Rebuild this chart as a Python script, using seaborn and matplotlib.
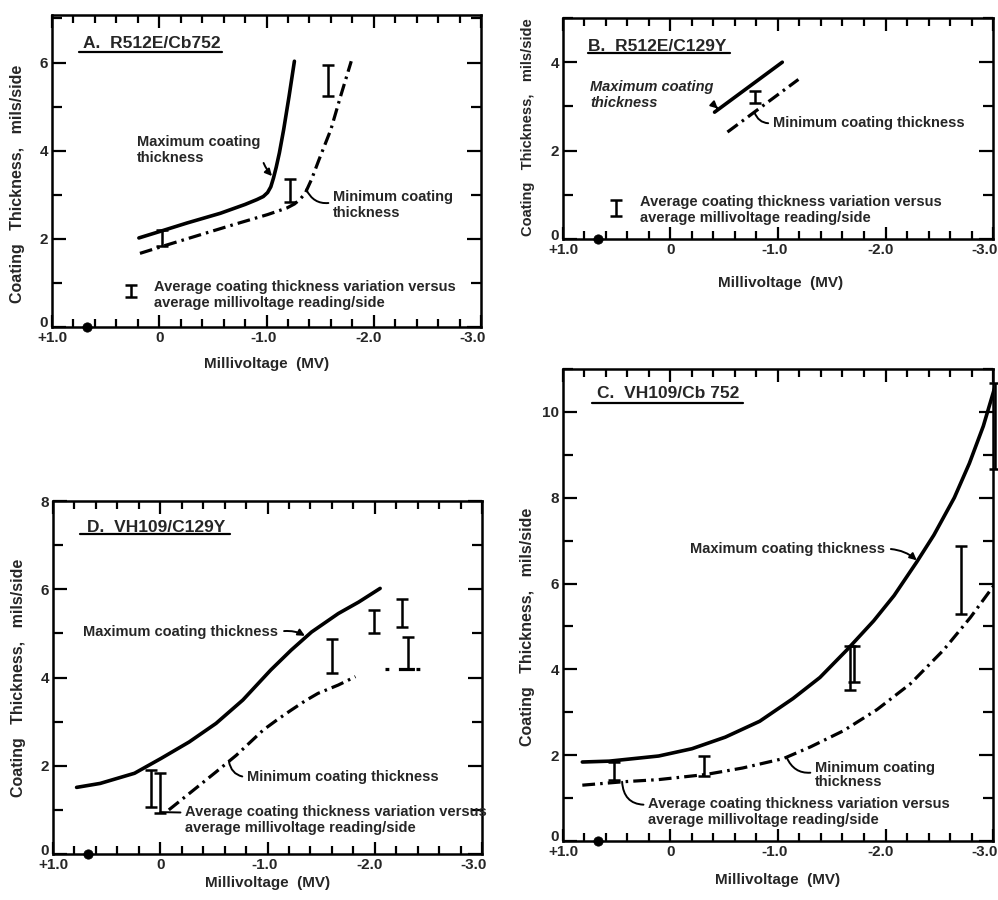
import matplotlib
matplotlib.use("Agg")
import matplotlib.pyplot as plt
from matplotlib.ticker import MultipleLocator
from matplotlib.transforms import ScaledTranslation
import seaborn as sns
import numpy as np

sns.set_theme(style="white")
plt.rcParams['font.family'] = ['Liberation Sans', 'DejaVu Sans']
plt.rcParams['font.weight'] = 'bold'

# ---------------- data ----------------
x_ticks = [1.0, 0.0, -1.0, -2.0, -3.0]
x_tick_labels = ["+1.0", "0", "-1.0", "-2.0", "-3.0"]
ref_dot_x = [0.67]
ref_dot_y = [0.0]

# Panel A  R512E/Cb752
a_max_x = [0.19, -0.01, -0.26, -0.57, -0.80, -0.91, -0.97, -1.01, -1.04, -1.065, -1.09, -1.12, -1.16, -1.21, -1.26]
a_max_y = [2.02, 2.17, 2.36, 2.58, 2.78, 2.89, 2.96, 3.05, 3.18, 3.38, 3.62, 3.95, 4.48, 5.23, 6.03]
a_min_x = [0.18, -0.07, -0.38, -0.69, -1.01, -1.19, -1.26, -1.31, -1.36, -1.42, -1.49, -1.60, -1.69, -1.79]
a_min_y = [1.67, 1.86, 2.09, 2.32, 2.55, 2.70, 2.79, 2.89, 3.03, 3.35, 3.80, 4.48, 5.23, 6.03]
a_bar_x = [-0.03, -1.22, -1.57, 0.26]
a_bar_lo = [1.83, 2.83, 5.23, 0.69]
a_bar_hi = [2.20, 3.36, 5.94, 0.95]

# Panel B  R512E/C129Y
b_max_x = [-0.41, -1.04]
b_max_y = [2.87, 4.00]
b_min_x = [-0.53, -1.19]
b_min_y = [2.42, 3.61]
b_bar_x = [-0.79, 0.51]
b_bar_lo = [3.08, 0.53]
b_bar_hi = [3.34, 0.88]

# Panel C  VH109/Cb752
c_max_x = [0.82, 0.57, 0.11, -0.20, -0.51, -0.83, -1.14, -1.39, -1.64, -1.89, -2.08, -2.29, -2.45, -2.64, -2.78, -2.91, -3.02]
c_max_y = [1.84, 1.86, 1.98, 2.15, 2.42, 2.79, 3.32, 3.81, 4.45, 5.13, 5.72, 6.50, 7.13, 8.00, 8.80, 9.67, 10.60]
c_min_x = [0.82, 0.44, 0.11, -0.33, -0.67, -1.05, -1.30, -1.61, -1.92, -2.23, -2.54, -2.79, -3.01]
c_min_y = [1.30, 1.38, 1.43, 1.55, 1.70, 1.92, 2.19, 2.57, 3.06, 3.66, 4.45, 5.21, 5.96]
c_bar_x = [0.53, -0.31, -1.67, -1.71, -2.70, -3.02]
c_bar_lo = [1.41, 1.51, 3.51, 3.71, 5.30, 8.67]
c_bar_hi = [1.84, 1.98, 4.54, 4.54, 6.88, 10.68]

# Panel D  VH109/C129Y
d_max_x = [0.78, 0.56, 0.24, -0.01, -0.27, -0.52, -0.77, -1.03, -1.22, -1.41, -1.66, -1.85, -2.05]
d_max_y = [1.51, 1.60, 1.83, 2.17, 2.54, 2.96, 3.49, 4.17, 4.62, 5.03, 5.45, 5.71, 6.02]
d_min_x = [-0.08, -0.27, -0.52, -0.71, -0.96, -1.10, -1.22, -1.35, -1.47, -1.66, -1.82]
d_min_y = [1.00, 1.37, 1.86, 2.24, 2.81, 3.06, 3.26, 3.47, 3.64, 3.83, 4.02]
d_tail_x = [-2.10, -2.48]
d_tail_y = [4.20, 4.20]
d_bar_x = [0.09, 0.00, -1.60, -1.99, -2.25, -2.31]
d_bar_lo = [1.07, 0.92, 4.11, 5.00, 5.15, 4.20]
d_bar_hi = [1.90, 1.83, 4.88, 5.52, 5.79, 4.92]

# ---------------- styling ----------------
LW_MAX = 2.6
LW_MIN = 2.3
DASHDOT = (0, (4, 1.6, 0.8, 1.6))
TXT = 10.5
LSP = 1.2
fig = plt.figure(figsize=(9.98, 9.0), dpi=100)

def setup(ax, ymax, yticks):
    ax.set_xlim(1.0, -3.0)
    ax.set_ylim(0, ymax)
    ax.set_xticks(x_ticks, x_tick_labels)
    ax.set_yticks(yticks, [str(t) for t in yticks])
    ax.xaxis.set_minor_locator(MultipleLocator(0.2))
    ax.yaxis.set_minor_locator(MultipleLocator(1))
    ax.tick_params(axis='both', which='both', direction='in', top=True, right=True,
                   bottom=True, left=True, width=1.6, color='black',
                   labelsize=11, pad=3)
    ax.tick_params(axis='x', which='major', length=9)
    ax.tick_params(axis='x', which='minor', length=6)
    ax.tick_params(axis='y', which='major', length=10)
    ax.tick_params(axis='y', which='minor', length=7)
    for lab in ax.get_xticklabels() + ax.get_yticklabels():
        lab.set_fontweight('bold')
    xl = ax.get_xticklabels()
    shifts = [0, 0, -3, -5, -8]
    for lab, sh in zip(xl, shifts):
        lab.set_transform(lab.get_transform() + ScaledTranslation(sh / 100, 0, fig.dpi_scale_trans))
    y0 = ax.get_yticklabels()[0]
    y0.set_transform(y0.get_transform() + ScaledTranslation(0, 5 / 100, fig.dpi_scale_trans))
    for s in ax.spines.values():
        s.set_linewidth(1.8)
        s.set_color('black')
    ax.grid(False)
    ax.set_facecolor('white')

def curves(ax, mx, my, nx, ny):
    sns.lineplot(x=mx, y=my, ax=ax, color='black', lw=LW_MAX, sort=False,
                 estimator=None, solid_capstyle='round', solid_joinstyle='round')
    sns.lineplot(x=nx, y=ny, ax=ax, color='black', lw=LW_MIN, sort=False,
                 estimator=None, linestyle=DASHDOT)

def bars(ax, bx, lo, hi):
    bx = np.asarray(bx); lo = np.asarray(lo); hi = np.asarray(hi)
    ax.errorbar(bx, (lo + hi) / 2, yerr=(hi - lo) / 2, fmt='none', ecolor='black',
                elinewidth=1.8, capsize=4, capthick=1.8, clip_on=False, zorder=4)

def dot(ax):
    sns.scatterplot(x=ref_dot_x, y=ref_dot_y, ax=ax, color='black', s=45,
                    clip_on=False, zorder=5, edgecolor='black')

def title(ax, s, x, y, ux0, ux1, uy):
    ax.text(x, y, s, transform=ax.transAxes, ha='left', va='center',
            fontsize=12.5, fontweight='bold')
    ax.plot([ux0, ux1], [uy, uy], transform=ax.transAxes, color='black', lw=1.6)

def labels(ax, xl_pos, yl_pos, ysize=11.5):
    ax.set_xlabel("Millivoltage  (MV)", fontsize=11, fontweight='bold')
    ax.set_ylabel("Coating   Thickness,   mils/side", fontsize=ysize, fontweight='bold')
    ax.xaxis.set_label_coords(*xl_pos)
    ax.yaxis.set_label_coords(*yl_pos)

LEG = "Average coating thickness variation versus\naverage millivoltage reading/side"

# ---------------- Panel A ----------------
axA = fig.add_axes([0.0521, 0.6367, 0.4299, 0.3467])
setup(axA, 7.08, [0, 2, 4, 6])
curves(axA, a_max_x, a_max_y, a_min_x, a_min_y)
bars(axA, a_bar_x, a_bar_lo, a_bar_hi)
dot(axA)
title(axA, "A.  R512E/Cb752", 0.072, 0.910, 0.063, 0.396, 0.881)
axA.annotate("Maximum coating\nthickness", xy=(-1.06, 3.40), xytext=(0.198, 0.566),
             textcoords='axes fraction', ha='left', va='center', fontsize=TXT,
             linespacing=LSP,
             arrowprops=dict(arrowstyle='-|>', lw=1.4, color='black', shrinkA=0, shrinkB=1,
                             relpos=(1.0, 0.45), connectionstyle='arc3,rad=0.15',
                             mutation_scale=10))
axA.annotate("Minimum coating\nthickness", xy=(-1.37, 3.12), xytext=(0.655, 0.39),
             textcoords='axes fraction', ha='left', va='center', fontsize=TXT,
             linespacing=LSP,
             arrowprops=dict(arrowstyle='-', lw=1.4, color='black', shrinkA=1, shrinkB=0,
                             relpos=(0.0, 0.6), connectionstyle='arc3,rad=-0.4'))
axA.text(0.237, 0.103, LEG, transform=axA.transAxes, ha='left', va='center',
         fontsize=TXT, linespacing=LSP)
labels(axA, (0.5, -0.097), (-0.063, 0.46))

# ---------------- Panel B ----------------
axB = fig.add_axes([0.5641, 0.7344, 0.4309, 0.2456])
setup(axB, 5.0, [0, 2, 4])
curves(axB, b_max_x, b_max_y, b_min_x, b_min_y)
bars(axB, b_bar_x, b_bar_lo, b_bar_hi)
dot(axB)
title(axB, "B.  R512E/C129Y", 0.058, 0.869, 0.058, 0.388, 0.842)
axB.annotate("Maximum coating\nthickness", xy=(-0.45, 2.93), xytext=(0.063, 0.651),
             textcoords='axes fraction', ha='left', va='center', fontsize=TXT,
             fontstyle='italic', linespacing=LSP,
             arrowprops=dict(arrowstyle='-|>', lw=1.4, color='black', shrinkA=0, shrinkB=1,
                             relpos=(0.97, 0.3), connectionstyle='arc3,rad=0.0',
                             mutation_scale=10))
axB.annotate("Minimum coating thickness", xy=(-0.78, 2.87), xytext=(0.488, 0.525),
             textcoords='axes fraction', ha='left', va='center', fontsize=TXT,
             arrowprops=dict(arrowstyle='-', lw=1.4, color='black', shrinkA=1, shrinkB=0,
                             relpos=(0.0, 0.5), connectionstyle='arc3,rad=-0.4'))
axB.text(0.179, 0.131, LEG, transform=axB.transAxes, ha='left', va='center',
         fontsize=TXT, linespacing=LSP)
labels(axB, (0.507, -0.167), (-0.065, 0.505), ysize=10.5)

# ---------------- Panel D ----------------
axD = fig.add_axes([0.0531, 0.0511, 0.4299, 0.3922])
setup(axD, 8.0, [0, 2, 4, 6, 8])
curves(axD, d_max_x, d_max_y, d_min_x, d_min_y)
sns.lineplot(x=d_tail_x, y=d_tail_y, ax=axD, color='black', lw=LW_MIN, sort=False,
             estimator=None, linestyle=(0, (1.2, 3.0, 5, 0.5)))
bars(axD, d_bar_x, d_bar_lo, d_bar_hi)
dot(axD)
title(axD, "D.  VH109/C129Y", 0.079, 0.926, 0.063, 0.413, 0.906)
axD.annotate("Maximum coating thickness", xy=(-1.36, 4.93), xytext=(0.07, 0.629),
             textcoords='axes fraction', ha='left', va='center', fontsize=TXT,
             arrowprops=dict(arrowstyle='-|>', lw=1.4, color='black', shrinkA=2, shrinkB=1,
                             relpos=(1.0, 0.5), connectionstyle='arc3,rad=-0.2',
                             mutation_scale=10))
axD.annotate("Minimum coating thickness", xy=(-0.64, 2.10), xytext=(0.452, 0.218),
             textcoords='axes fraction', ha='left', va='center', fontsize=TXT,
             arrowprops=dict(arrowstyle='-', lw=1.4, color='black', shrinkA=1, shrinkB=0,
                             relpos=(0.0, 0.5), connectionstyle='arc3,rad=-0.4'))
axD.annotate(LEG, xy=(0.0, 0.95), xytext=(0.308, 0.096),
             textcoords='axes fraction', ha='left', va='center', fontsize=TXT,
             linespacing=LSP,
             arrowprops=dict(arrowstyle='-', lw=1.4, color='black', shrinkA=1, shrinkB=0,
                             relpos=(0.0, 0.75), connectionstyle='arc3,rad=0.0'))
labels(axD, (0.5, -0.062), (-0.063, 0.5))

# ---------------- Panel C ----------------
axC = fig.add_axes([0.5641, 0.0656, 0.4309, 0.5244])
setup(axC, 11.0, [0, 2, 4, 6, 8, 10])
curves(axC, c_max_x, c_max_y, c_min_x, c_min_y)
bars(axC, c_bar_x, c_bar_lo, c_bar_hi)
dot(axC)
title(axC, "C.  VH109/Cb 752", 0.079, 0.949, 0.067, 0.419, 0.928)
axC.annotate("Maximum coating thickness", xy=(-2.30, 6.52), xytext=(0.295, 0.619),
             textcoords='axes fraction', ha='left', va='center', fontsize=TXT,
             arrowprops=dict(arrowstyle='-|>', lw=1.4, color='black', shrinkA=2, shrinkB=1,
                             relpos=(1.0, 0.5), connectionstyle='arc3,rad=-0.2',
                             mutation_scale=10))
axC.annotate("Minimum coating\nthickness", xy=(-1.08, 1.95), xytext=(0.586, 0.140),
             textcoords='axes fraction', ha='left', va='center', fontsize=TXT,
             linespacing=1.0,
             arrowprops=dict(arrowstyle='-', lw=1.4, color='black', shrinkA=1, shrinkB=0,
                             relpos=(0.0, 0.6), connectionstyle='arc3,rad=-0.4'))
axC.annotate(LEG, xy=(0.45, 1.38), xytext=(0.198, 0.061),
             textcoords='axes fraction', ha='left', va='center', fontsize=TXT,
             linespacing=LSP,
             arrowprops=dict(arrowstyle='-', lw=1.4, color='black', shrinkA=1, shrinkB=0,
                             relpos=(0.0, 0.75), connectionstyle='arc3,rad=-0.5'))
labels(axC, (0.5, -0.068), (-0.065, 0.453))

fig.savefig("out.png", dpi=100, facecolor='white')
